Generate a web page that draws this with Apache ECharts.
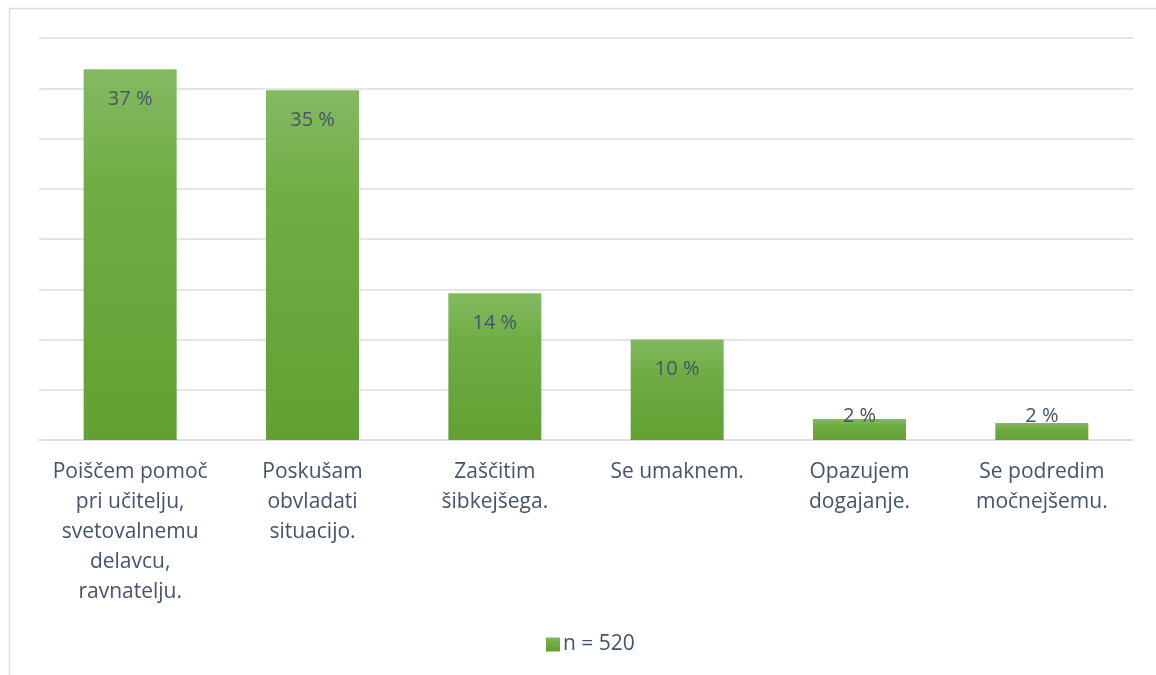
<!DOCTYPE html>
<html>
<head>
<meta charset="utf-8">
<title>n = 520</title>
<script src="https://cdn.jsdelivr.net/npm/echarts@6/dist/echarts.min.js"></script>
<style>
  html, body { margin: 0; padding: 0; background: #fff; }
  #chart { width: 1156px; height: 675px; }
</style>
</head>
<body>
<div id="chart"></div>
<script>
'use strict';

// podatki
const categories = [
  'Poiščem pomoč\npri učitelju,\nsvetovalnemu\ndelavcu,\nravnatelju.',
  'Poskušam\nobvladati\nsituacijo.',
  'Zaščitim\nšibkejšega.',
  'Se umaknem.',
  'Opazujem\ndogajanje.',
  'Se podredim\nmočnejšemu.'
];
const values = [36.9, 34.8, 14.6, 10.0, 2.1, 1.7];
const valueLabels = ['37 %', '35 %', '14 %', '10 %', '2 %', '2 %'];
const seriesName = 'n = 520';

const textColor = '#44546A';
const gridColor = '#D9DDE3';
const font = '"Open Sans", "Liberation Sans", sans-serif';

const green = new echarts.graphic.LinearGradient(0, 0, 0, 1, [
  { offset: 0, color: '#84B962' },
  { offset: 0.3, color: '#70AE45' },
  { offset: 1, color: '#62A033' }
]);

const chart = echarts.init(document.getElementById('chart'), null, { renderer: 'canvas' });

const option = {
  animation: false,
  textStyle: { fontFamily: font },
  graphic: [{
    type: 'rect',
    shape: { x: 9.5, y: 8.5, width: 1300, height: 800 },
    style: { fill: 'none', stroke: gridColor, lineWidth: 1.5 },
    silent: true
  }],
  grid: { left: 39, right: 23, top: 38, bottom: 235 },
  legend: {
    bottom: 15,
    left: 541,
    itemWidth: 14,
    itemHeight: 14,
    itemGap: 4,
    icon: 'rect',
    textStyle: { color: textColor, fontSize: 21, fontFamily: font, padding: [0, 0, 0, -2] },
    data: [seriesName]
  },
  xAxis: {
    type: 'category',
    data: categories,
    axisLine: { lineStyle: { color: gridColor, width: 1.5 } },
    axisTick: { show: false },
    axisLabel: {
      interval: 0,
      margin: 17,
      color: textColor,
      fontSize: 21,
      lineHeight: 30,
      fontFamily: font
    }
  },
  yAxis: {
    type: 'value',
    min: 0,
    max: 40,
    interval: 5,
    axisLabel: { show: false },
    axisLine: { show: false },
    axisTick: { show: false },
    splitLine: { lineStyle: { color: gridColor, width: 1.5 } }
  },
  series: [{
    name: seriesName,
    type: 'bar',
    barWidth: '51%',
    itemStyle: { color: green },
    label: {
      show: true,
      position: 'insideTop',
      distance: 20,
      color: textColor,
      fontSize: 20,
      fontFamily: font,
      formatter: p => valueLabels[p.dataIndex]
    },
    data: values.map(v => v < 5
      ? { value: v, label: { position: 'insideBottom', distance: 14 } }
      : v)
  }]
};

option && chart.setOption(option);
</script>
</body>
</html>
